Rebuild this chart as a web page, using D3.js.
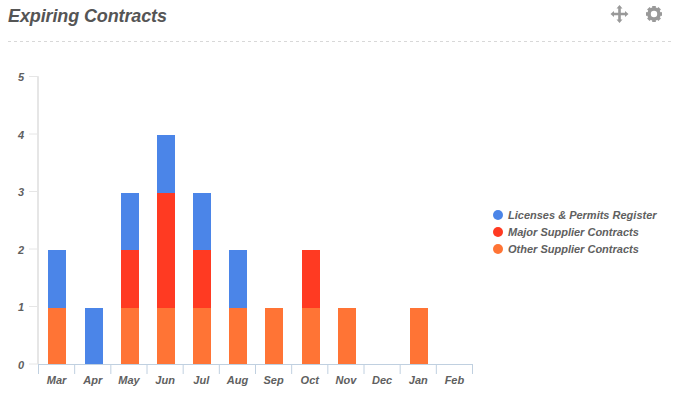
<!DOCTYPE html>
<html lang="en">
<head>
<meta charset="UTF-8" />
<title>Expiring Contracts</title>
<script src="https://d3js.org/d3.v7.min.js"></script>
<style>
  body {
    margin: 0;
    background: #fff;
    overflow: hidden;
  }
  svg {
    display: block;
    font-family: "Liberation Sans", sans-serif;
    font-style: italic;
    font-weight: bold;
  }
  .label {
    fill: #606060;
    font-size: 11px;
  }
  .title {
    fill: #555;
    font-size: 18px;
  }
</style>
</head>
<body>

<svg width="678" height="395"></svg>

<script>
  const width = 678, height = 395;

  const months = ["Mar", "Apr", "May", "Jun", "Jul", "Aug", "Sep", "Oct", "Nov", "Dec", "Jan", "Feb"];
  const yTicks = [0, 1, 2, 3, 4, 5];
  const seriesNames = ["Licenses & Permits Register", "Major Supplier Contracts", "Other Supplier Contracts"];
  const seriesColors = ["#4b85e8", "#ff3a22", "#ff7435"];

  const licenses = [1, 1, 1, 1, 1, 1, 0, 0, 0, 0, 0, 0];
  const major    = [0, 0, 1, 2, 1, 0, 0, 1, 0, 0, 0, 0];
  const other    = [1, 0, 1, 1, 1, 1, 1, 1, 1, 0, 1, 0];

  const x = d3.scaleBand().domain(months).range([38.5, 472.5]);
  const y = d3.scaleLinear().domain([0, 5]).range([364.5, 77]);

  const svg = d3.select("svg");

  // Header
  svg.append("text")
    .attr("class", "title")
    .attr("x", 8)
    .attr("y", 22)
    .attr("textLength", 159)
    .text("Expiring Contracts");

  svg.append("line")
    .attr("x1", 8).attr("x2", 672)
    .attr("y1", 41.5).attr("y2", 41.5)
    .attr("stroke", "#d8d8d8")
    .attr("stroke-dasharray", "3,3");

  // Move icon
  svg.append("path")
    .attr("transform", "translate(619.5,14)")
    .attr("fill", "#999")
    .attr("d", "M0,-9L3,-5.5H1.3V-1.3H5.5V-3L9,0L5.5,3V1.3H1.3V5.5H3L0,9L-3,5.5H-1.3V1.3H-5.5V3L-9,0L-5.5,-3V-1.3H-1.3V-5.5H-3Z");

  // Gear icon
  const gear = svg.append("g").attr("transform", "translate(654,14)");
  gear.append("circle").attr("r", 5).attr("fill", "none").attr("stroke", "#999").attr("stroke-width", 3.6);
  gear.selectAll("rect")
    .data(d3.range(8))
    .join("rect")
    .attr("x", -1.8).attr("y", -8).attr("width", 3.6).attr("height", 3)
    .attr("fill", "#999")
    .attr("transform", d => `rotate(${d * 45})`);

  // Y axis
  const yAxis = svg.append("g")
    .attr("transform", "translate(38.5,0)")
    .call(d3.axisLeft(y).tickValues(yTicks).tickFormat(d3.format("d")).tickSize(9.5).tickSizeOuter(0).offset(-0.5));
  yAxis.selectAll(".domain").attr("stroke", "#e6e6e6").attr("stroke-width", 2);
  yAxis.selectAll(".tick line").attr("stroke", "#e6e6e6");
  yAxis.selectAll("text")
    .attr("class", "label")
    .attr("x", -14.5)
    .attr("dy", "0.45em")
    .style("font-size", "11px")
    .style("font-family", null);

  // Stacked bars, other at the bottom
  const rows = months.map((m, i) => ({ month: m, 0: licenses[i], 1: major[i], 2: other[i] }));
  const stack = d3.stack().keys([2, 1, 0]);
  const barY = v => Math.floor(y(v)) + 1;

  svg.selectAll("g.series")
    .data(stack(rows))
    .join("g")
    .attr("class", "series")
    .attr("fill", d => seriesColors[d.key])
    .selectAll("rect")
    .data(d => d)
    .join("rect")
    .attr("x", d => Math.round(x(d.data.month) + x.bandwidth() / 2 - 8.1))
    .attr("width", 18)
    .attr("y", d => barY(d[1]))
    .attr("height", d => barY(d[0]) - barY(d[1]));

  // X axis
  const xAxis = svg.append("g")
    .attr("transform", "translate(0,364)")
    .call(d3.axisBottom(x).tickSize(0).tickSizeOuter(0));
  xAxis.selectAll(".domain").attr("stroke", "#c0d0e0");
  xAxis.selectAll("text")
    .attr("class", "label")
    .attr("y", 19.5)
    .attr("dy", 0)
    .style("font-size", "11px")
    .style("font-family", null);
  xAxis.selectAll("line.edge")
    .data(months.concat("end"))
    .join("line")
    .attr("class", "edge")
    .attr("x1", d => d === "end" ? x.range()[1] : x(d))
    .attr("x2", d => d === "end" ? x.range()[1] : x(d))
    .attr("y1", 0).attr("y2", 10)
    .attr("stroke", "#c0d0e0");

  // Legend
  const legend = svg.selectAll("g.legend")
    .data(seriesNames)
    .join("g")
    .attr("class", "legend")
    .attr("transform", (d, i) => `translate(498,${215 + i * 17})`);
  legend.append("circle")
    .attr("r", 5)
    .attr("fill", (d, i) => seriesColors[i]);
  legend.append("text")
    .attr("class", "label")
    .attr("x", 10)
    .attr("y", 4)
    .text(d => d);
</script>

</body>
</html>
